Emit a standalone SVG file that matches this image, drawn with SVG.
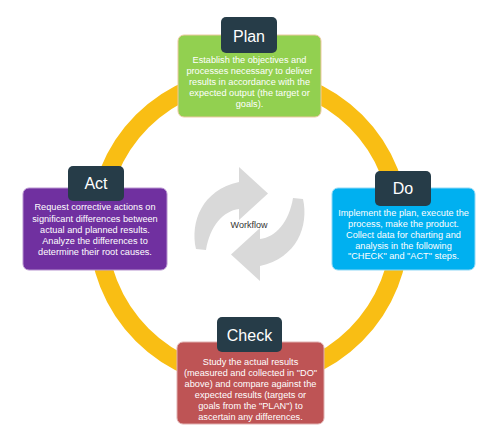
<svg xmlns="http://www.w3.org/2000/svg" width="500" height="445" viewBox="0 0 500 445">
<style>
.body{font-family:"Liberation Sans",Arial,sans-serif;font-size:9.2px;fill:#fff;text-anchor:middle}
.ttl{font-family:"Liberation Sans",Arial,sans-serif;font-size:16px;fill:#fff;text-anchor:middle}
.lbl{fill:#263c48}
.wf{fill:#d9d9d9}
</style>
<rect width="500" height="445" fill="#fff"/>
<g id="connectors">
<circle cx="249" cy="228" r="151" fill="none" stroke="#f9be14" stroke-width="18"/>
</g>
<g id="workflow">
<path class="wf" d="M196,249 C190,222 202,190 239,182 L239,167 L268,193.5 L239,220 L239,209 C223,211 210,226 206,250 Z"/>
<path class="wf" d="M196,249 C190,222 202,190 239,182 L239,167 L268,193.5 L239,220 L239,209 C223,211 210,226 206,250 Z" transform="rotate(180 249.5 224)"/>
<text x="249" y="228" font-family="Liberation Sans,Arial,sans-serif" font-size="9px" fill="#333" text-anchor="middle">Workflow</text>
</g>
<g id="plan">
<rect x="178" y="35" width="143" height="82" rx="6" fill="#92d050" stroke="#edc9a0" stroke-width="1"/>
<rect class="lbl" x="221" y="17" width="56" height="36" rx="5"/>
<text class="ttl" x="249" y="42">Plan</text>
<text class="body" x="249.5" y="63">Establish the objectives and</text>
<text class="body" x="249.5" y="74">processes necessary to deliver</text>
<text class="body" x="249.5" y="85">results in accordance with the</text>
<text class="body" x="249.5" y="96">expected output (the target or</text>
<text class="body" x="249.5" y="107">goals).</text>
</g>
<g id="do">
<rect x="332" y="188" width="143" height="82" rx="6" fill="#00b0f0" stroke="#8fd8f6" stroke-width="1"/>
<rect class="lbl" x="375" y="171" width="56" height="35" rx="5"/>
<text class="ttl" x="403" y="194">Do</text>
<text class="body" x="403.5" y="216">Implement the plan, execute the</text>
<text class="body" x="403.5" y="227">process, make the product.</text>
<text class="body" x="403.5" y="238">Collect data for charting and</text>
<text class="body" x="403.5" y="248.5">analysis in the following</text>
<text class="body" x="403.5" y="259">"CHECK" and "ACT" steps.</text>
</g>
<g id="act">
<rect x="23" y="188" width="144" height="82" rx="6" fill="#7030a0" stroke="#b894d0" stroke-width="1"/>
<rect class="lbl" x="68" y="166" width="56" height="35" rx="5"/>
<text class="ttl" x="96" y="189">Act</text>
<text class="body" x="95" y="210">Request corrective actions on</text>
<text class="body" x="95" y="221.5">significant differences between</text>
<text class="body" x="95" y="232.5">actual and planned results.</text>
<text class="body" x="95" y="244">Analyze the differences to</text>
<text class="body" x="95" y="255">determine their root causes.</text>
</g>
<g id="check">
<rect x="177" y="342" width="147" height="82" rx="6" fill="#be5455" stroke="#e0b0b0" stroke-width="1"/>
<rect class="lbl" x="217" y="317" width="65" height="35" rx="5"/>
<text class="ttl" x="249.5" y="341">Check</text>
<text class="body" x="250.5" y="365">Study the actual results</text>
<text class="body" x="250.5" y="376">(measured and collected in "DO"</text>
<text class="body" x="250.5" y="387">above) and compare against the</text>
<text class="body" x="250.5" y="398">expected results (targets or</text>
<text class="body" x="250.5" y="409">goals from the "PLAN") to</text>
<text class="body" x="250.5" y="420">ascertain any differences.</text>
</g>
</svg>
